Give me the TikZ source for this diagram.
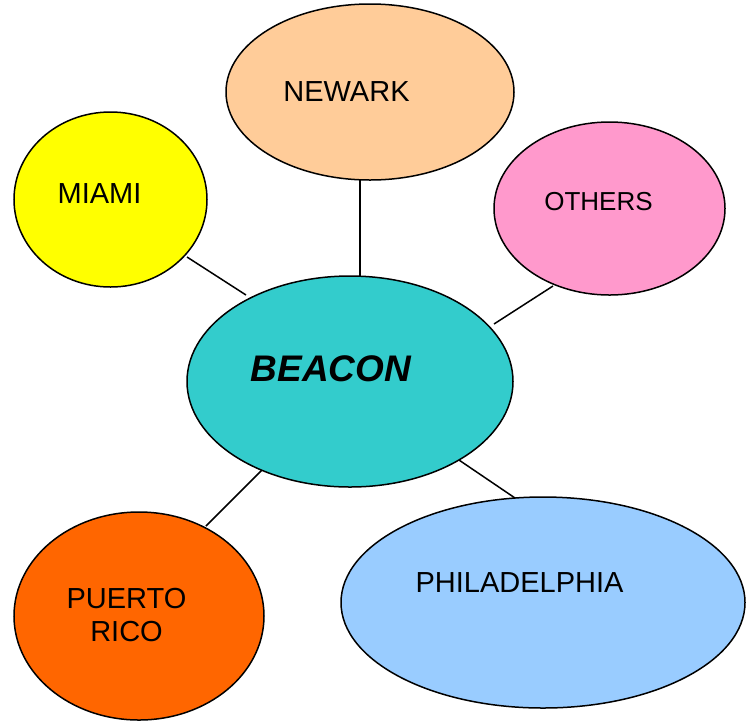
\documentclass[tikz,border=0pt]{standalone}
\usepackage{fontspec}
\setmainfont{Liberation Sans}
\usetikzlibrary{shapes.geometric}
\definecolor{cNewark}{HTML}{FFCC99}
\definecolor{cMiami}{HTML}{FFFF00}
\definecolor{cOthers}{HTML}{FF99CC}
\definecolor{cBeacon}{HTML}{33CCCC}
\definecolor{cPR}{HTML}{FF6600}
\definecolor{cPhil}{HTML}{99CCFF}
\tikzset{
  bubble/.style={ellipse, draw=black, line width=1.5pt, inner sep=0pt},
  lbl/.style={anchor=base, inner sep=0pt, font=\fontsize{29}{33}\selectfont},
  link/.style={draw=black, line width=1.5pt}
}
\begin{document}
\begin{tikzpicture}[x=1pt,y=-1pt]
\useasboundingbox (0,0) rectangle (751,721);
% connectors (behind)
\coordinate (nwA) at (360,178);
\coordinate (nwB) at (360,277);
\coordinate (miA) at (187,257);
\coordinate (miB) at (246,295);
\coordinate (otA) at (553,286);
\coordinate (otB) at (494,324);
\coordinate (prA) at (265,467);
\coordinate (prB) at (206,526);
\coordinate (phA) at (456,458);
\coordinate (phB) at (515,498);
\draw[link] (nwA) -- (nwB);
\draw[link] (miA) -- (miB);
\draw[link] (otA) -- (otB);
\draw[link] (prA) -- (prB);
\draw[link] (phA) -- (phB);
% ellipses
\node[bubble, fill=cNewark, minimum width=288pt, minimum height=176pt] (newark) at (370,92) {};
\node[bubble, fill=cMiami, minimum width=193pt, minimum height=175pt] (miami) at (110.5,199.5) {};
\node[bubble, fill=cOthers, minimum width=231pt, minimum height=173pt] (others) at (609.5,208.5) {};
\node[bubble, fill=cBeacon, minimum width=326pt, minimum height=211pt] (beacon) at (350,381.5) {};
\node[bubble, fill=cPR, minimum width=250pt, minimum height=208pt] (pr) at (139,616) {};
\node[bubble, fill=cPhil, minimum width=404pt, minimum height=211pt] (phil) at (543,602.5) {};
% labels
\node[lbl] (tNewark) at (346.5,101.5) {NEWARK};
\node[lbl] (tMiami) at (99.5,203.5) {MIAMI};
\node[lbl, font=\fontsize{26}{30}\selectfont] (tOthers) at (598.5,210.5) {OTHERS};
\node[lbl, font=\fontsize{37}{42}\selectfont\bfseries\itshape] (tBeacon) at (331,381) {BEACON};
\node[lbl] (tPuerto) at (126.5,608.5) {PUERTO};
\node[lbl] (tRico) at (126.5,641.5) {RICO};
\node[lbl] (tPhil) at (519.5,592.5) {PHILADELPHIA};
\end{tikzpicture}
\end{document}
